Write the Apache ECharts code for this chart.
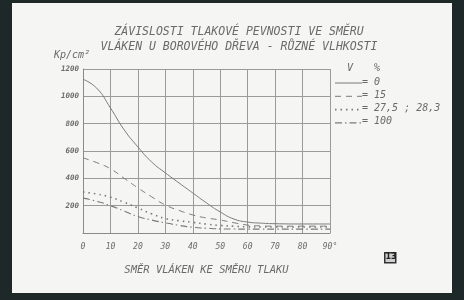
<!DOCTYPE html>
<html><head><meta charset="utf-8">
<script src="https://cdn.jsdelivr.net/npm/echarts@6/dist/echarts.min.js"></script>
<style>
html,body{margin:0;padding:0;background:#1f2828;}
#wrap{position:relative;width:464px;height:300px;background:#1f2828;overflow:hidden;}
#paper{position:absolute;left:12px;top:3px;width:440px;height:290px;background:#f5f5f3;}
#c{position:absolute;left:0;top:0;width:464px;height:300px;}
</style></head>
<body><div id="wrap"><div id="paper"></div><div id="c"></div></div>
<script>
var angles = [0, 5, 10, 15, 20, 25, 30, 35, 40, 45, 50, 55, 60, 65, 70, 80, 90];
var xTicks = ['0','10','20','30','40','50','60','70','80','90°'];
var names = ['0', '15', '27,5 ; 28,3', '100'];
var v0   = [1125, 1060, 915, 755, 630, 520, 440, 366, 293, 220, 154, 102, 80, 72, 68, 66, 66];
var v15  = [550, 515, 470, 400, 330, 265, 205, 165, 132, 110, 95, 75, 58, 52, 50, 50, 50];
var v27  = [300, 285, 262, 225, 183, 140, 106, 90, 78, 65, 55, 50, 45, 44, 44, 44, 44];
var v100 = [255, 232, 200, 160, 120, 95, 74, 56, 42, 35, 30, 29, 28, 28, 28, 28, 28];

var ink = '#6a6a6a';
var lineCol = '#7a7a7a';
var font = 'DejaVu Sans Mono';
function pairs(v){ return angles.map(function(a,i){ return [a, v[i]]; }); }
var styles = ['solid', [6,5], [1.5,4], [7,3,1.5,3]];
var widths = [1, 1, 1.6, 1.1];
var data = [v0, v15, v27, v100];
var series = data.map(function(v, i){
  return {
    name: names[i], type: 'line', smooth: true, symbol: 'none',
    data: pairs(v),
    lineStyle: { color: lineCol, width: widths[i], type: styles[i] }
  };
});

var legendG = [];
names.forEach(function(n, i){
  var y = 83 + i * 13.3;
  legendG.push({ type: 'line', shape: { x1: 335, y1: y, x2: 362, y2: y },
    style: { stroke: lineCol, lineWidth: widths[i], lineDash: styles[i] === 'solid' ? null : styles[i] } });
  legendG.push({ type: 'text', left: 362, top: y - 6,
    style: { text: '= ' + n, font: 'italic 10px "DejaVu Sans Mono"', fill: ink } });
});

var chart = echarts.init(document.getElementById('c'), null, {renderer:'canvas'});
chart.setOption({
  backgroundColor: 'transparent',
  animation: false,
  title: {
    text: 'ZÁVISLOSTI TLAKOVÉ PEVNOSTI VE SMĚRU\nVLÁKEN U BOROVÉHO DŘEVA - RŮZNÉ VLHKOSTI',
    left: 234, top: 20, textAlign: 'center',
    textStyle: { fontFamily: font, fontStyle: 'italic', fontWeight: 'normal', fontSize: 11.5, color: ink, lineHeight: 15 }
  },
  grid: { left: 83, right: 134, top: 69, bottom: 67 },
  xAxis: {
    type: 'value', min: 0, max: 90, interval: 10,
    name: 'SMĚR VLÁKEN KE SMĚRU TLAKU', nameLocation: 'middle', nameGap: 32,
    nameTextStyle: { fontFamily: font, fontStyle: 'italic', fontSize: 10.5, color: ink },
    axisLine: { lineStyle: { color: '#8a8a8a', width: 1 } },
    axisTick: { show: false },
    splitLine: { show: true, lineStyle: { color: '#9a9a9a', width: 1 } },
    axisLabel: { margin: 10, fontFamily: font, fontStyle: 'italic', fontSize: 8, color: ink,
      formatter: function(v){ var k = Math.round(v / 10); return xTicks[k]; } }
  },
  yAxis: {
    type: 'value', min: 0, max: 1200, interval: 200,
    axisLine: { show: true, lineStyle: { color: '#8a8a8a', width: 1 } },
    axisTick: { show: false },
    splitLine: { show: true, lineStyle: { color: '#9a9a9a', width: 1 } },
    axisLabel: { margin: 4, fontFamily: font, fontStyle: 'italic', fontWeight: 'bold', fontSize: 7.5, color: ink,
      formatter: function(v){ return v === 0 ? '' : String(v); } }
  },
  graphic: [
    { type: 'text', left: 54, top: 50, style: { text: 'Kp/cm²', font: 'italic 10px "DejaVu Sans Mono"', fill: ink } },
    { type: 'text', left: 347, top: 63, style: { text: 'V', font: 'italic 10px "DejaVu Sans Mono"', fill: ink } },
    { type: 'text', left: 374, top: 63, style: { text: '%', font: 'italic 10px "DejaVu Sans Mono"', fill: ink } },
    { type: 'rect', left: 384, top: 252, shape: { width: 11, height: 10 }, style: { fill: '#cfcfcf', stroke: '#333', lineWidth: 1.5 } },
    { type: 'text', left: 385.5, top: 253, style: { text: '13', font: 'bold 8px "DejaVu Sans"', fill: '#222' } }
  ].concat(legendG),
  series: series
});
</script></body></html>
